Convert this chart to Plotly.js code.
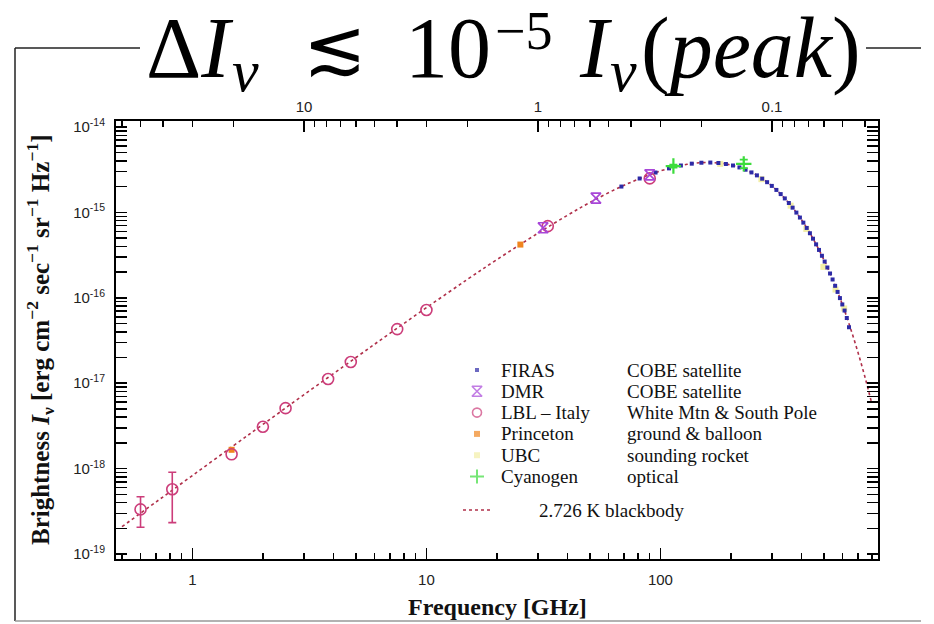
<!DOCTYPE html>
<html>
<head>
<meta charset="utf-8">
<script src="https://cdn.plot.ly/plotly-3.0.1.min.js"></script>
<style>
  html, body { margin: 0; padding: 0; background: #fff; }
  #chart { width: 934px; height: 624px; }
</style>
</head>
<body>
<div id="chart"></div>
<script>
// Cosmic microwave background spectrum: measurements vs. a 2.726 K blackbody.
// Brightness in erg cm^-2 sec^-1 sr^-1 Hz^-1, frequency in GHz.

// 2.726 K blackbody curve
const bbFreq = [0.5, 0.7, 1, 1.5, 2, 3, 5, 7, 10, 15, 20, 30, 40, 50, 70, 100, 130, 160,
  200, 250, 300, 350, 400, 450, 500, 550, 600, 650, 700, 750, 800];
const bbBright = [2.09e-19, 4.08e-19, 8.30e-19, 1.86e-18, 3.29e-18, 7.34e-18, 2.00e-17, 3.86e-17,
  7.66e-17, 1.65e-16, 2.80e-16, 5.72e-16, 9.23e-16, 1.31e-15, 2.08e-15, 3.06e-15, 3.66e-15, 3.84e-15,
  3.59e-15, 2.86e-15, 2.03e-15, 1.33e-15, 8.26e-16, 4.87e-16, 2.77e-16, 1.53e-16, 8.25e-17,
  4.34e-17, 2.25e-17, 1.15e-17, 5.78e-18];

// FIRAS (COBE satellite)
const firasFreq = [68.1, 81.5, 95.3, 108.8, 122.3, 136.1, 149.6, 163.4, 176.9, 190.4, 204.2, 217.6,
  231.1, 244.9, 258.4, 272.2, 285.7, 299.2, 313.0, 326.5, 340.0, 353.8, 367.2, 381.0, 394.5, 408.0,
  421.8, 435.3, 448.8, 462.6, 476.1, 489.9, 503.3, 516.8, 530.6, 544.1, 557.9, 571.4, 584.9, 598.7,
  612.2, 625.7, 639.4];
const firasBright = [2.007e-15, 2.495e-15, 2.930e-15, 3.278e-15, 3.541e-15, 3.721e-15, 3.815e-15,
  3.835e-15, 3.789e-15, 3.688e-15, 3.541e-15, 3.363e-15, 3.161e-15, 2.939e-15, 2.714e-15, 2.482e-15,
  2.259e-15, 2.043e-15, 1.833e-15, 1.638e-15, 1.458e-15, 1.288e-15, 1.136e-15, 9.945e-16, 8.704e-16,
  7.588e-16, 6.577e-16, 5.701e-16, 4.922e-16, 4.227e-16, 3.635e-16, 3.106e-16, 2.658e-16, 2.264e-16,
  1.926e-16, 1.639e-16, 1.381e-16, 1.172e-16, 9.92e-17, 8.36e-17, 7.09e-17, 5.80e-17, 4.52e-17];

// DMR (COBE satellite)
const dmrFreq = [31.5, 53, 90];
const dmrBright = [6.6e-16, 1.47e-15, 2.75e-15];

// LBL - Italy (White Mtn & South Pole)
const lblFreq = [0.6, 0.82, 1.47, 2.0, 2.5, 3.8, 4.75, 7.5, 10.0, 33.0, 90.0];
const lblBright = [3.33e-19, 5.73e-19, 1.47e-18, 3.09e-18, 5.1e-18, 1.12e-17, 1.77e-17, 4.3e-17,
  7.2e-17, 6.9e-16, 2.5e-15];
const lblErrPlus = [1.35e-19, 3.33e-19, NaN, NaN, NaN, NaN, NaN, NaN, NaN, NaN, NaN];
const lblErrMinus = [1.27e-19, 3.40e-19, NaN, NaN, NaN, NaN, NaN, NaN, NaN, NaN, NaN];

// Princeton (ground & balloon)
const prFreq = [1.47, 25.2];
const prBright = [1.66e-18, 4.2e-16];

// UBC (sounding rocket)
const ubcFreq = [180, 270, 360, 420, 497, 560, 610];
const ubcBright = [3.7e-15, 2.45e-15, 1.2e-15, 6.4e-16, 2.3e-16, 1.25e-16, 7.5e-17];

// Cyanogen (optical)
const cnFreq = [113.6, 227];
const cnBright = [3.49e-15, 3.7e-15];
const cnErrPlus = [1.5e-16, 4.5e-16];
const cnErrMinus = [1.5e-16, 4.0e-16];

// Axis ticks
const freqMajor = [1, 10, 100];
const freqMinor = [0.5, 0.6, 0.7, 0.8, 0.9, 2, 3, 4, 5, 6, 7, 8, 9, 20, 30, 40, 50, 60, 70, 80, 90,
  200, 300, 400, 500, 600, 700, 800];
const waveMajor = [10, 1, 0.1];               // wavelength in cm (top axis)
const waveMinor = [60, 50, 40, 30, 20, 9, 8, 7, 6, 5, 4, 3, 2, 0.9, 0.8, 0.7, 0.6, 0.5, 0.4, 0.3,
  0.2, 0.09, 0.08, 0.07, 0.06, 0.05, 0.04];
const brightDecades = [-19, -18, -17, -16, -15, -14];

// Legend rows
const legendNames = ['FIRAS', 'DMR', 'LBL \u2013 Italy', 'Princeton', 'UBC', 'Cyanogen'];
const legendNotes = ['COBE satellite', 'COBE satellite', 'White Mtn & South Pole',
  'ground & balloon', 'sounding rocket', 'optical'];
const legendCurve = '2.726 K blackbody';

// ---- styling ----
const C = {
  firas: '#2d2aa6', dmr: '#a846d8', lbl: '#cc3d7a', pr: '#f0841e',
  ubc: '#f2eea6', cn: '#3cdc3c', bb: '#b0304a'
};
const serif = 'Liberation Serif, Times New Roman, DejaVu Serif, serif';
const sans = 'Liberation Sans, Arial, Helvetica, sans-serif';
const mathSym = 'DejaVu Sans ExtraLight, DejaVu Sans, sans-serif';

// Plot area geometry (pixels)
const W = 934, H = 624, L = 116, R = 878, T = 121, B = 559;
const px = x => (x - L) / (R - L);
const py = y => (B - y) / (B - T);

const C_CM_GHZ = 29.9792458;   // c in cm*GHz
const xRange = [Math.log10(0.5) - 6 / 234, Math.log10(0.5) - 6 / 234 + (R - L) / 234];
const yRange = [-19 - 5 / 85.4, -19 - 5 / 85.4 + (B - T) / 85.4];

const yTickVals = brightDecades.map(d => Math.pow(10, d));
const yTickText = brightDecades.map(d => '10<sup>' + d + '</sup>');
const yMinor = [];
brightDecades.slice(0, -1).forEach(d => { for (let k = 2; k <= 9; k++) yMinor.push(k * Math.pow(10, d)); });

const traces = [
  { x: bbFreq, y: bbBright, mode: 'lines', line: { color: C.bb, width: 1.6, dash: '3px,3px', shape: 'spline' },
    name: legendCurve, hoverinfo: 'skip' },
  { x: ubcFreq, y: ubcBright, mode: 'markers', name: 'UBC',
    marker: { symbol: 'square', size: 6, color: C.ubc } },
  { x: firasFreq, y: firasBright, mode: 'markers', name: 'FIRAS',
    marker: { symbol: 'square', size: 4, color: C.firas } },
  { x: prFreq, y: prBright, mode: 'markers', name: 'Princeton',
    marker: { symbol: 'square', size: 6, color: C.pr } },
  { x: lblFreq, y: lblBright, mode: 'markers', name: 'LBL',
    marker: { symbol: 'circle-open', size: 11, color: C.lbl, line: { width: 1.6, color: C.lbl } },
    error_y: { type: 'data', array: lblErrPlus, arrayminus: lblErrMinus, color: C.lbl, thickness: 1.6, width: 4 } },
  { x: dmrFreq, y: dmrBright, mode: 'markers', name: 'DMR',
    marker: { symbol: 'hourglass-open', size: 10, color: C.dmr, line: { width: 1.6, color: C.dmr } } },
  { x: cnFreq, y: cnBright, mode: 'markers', name: 'Cyanogen',
    marker: { symbol: 'cross-thin-open', size: 11, color: C.cn, line: { width: 2.2, color: C.cn } },
    error_y: { type: 'data', array: cnErrPlus, arrayminus: cnErrMinus, color: C.cn, thickness: 1.6, width: 4 } },
  // top wavelength axis carrier
  { x: [bbFreq[0]], y: [bbBright[0]], xaxis: 'x2', mode: 'markers', marker: { opacity: 0 }, hoverinfo: 'skip' }
];

// Legend keys on a pixel-mapped overlay axis
const rowTop = 370, rowStep = 21.3, keyX = 477, col1X = 499, col2X = 625, curveRowY = 510;
const rowY = legendNames.map((_, i) => rowTop + i * rowStep);
traces.push({
  x: legendNames.map(() => keyX), y: rowY, xaxis: 'x3', yaxis: 'y3', mode: 'markers', hoverinfo: 'skip',
  marker: {
    symbol: ['square', 'hourglass-open', 'circle-open', 'square', 'square', 'cross-thin-open'],
    size: [4, 10, 9, 6, 6, 10],
    color: [C.firas, C.dmr, C.lbl, C.pr, C.ubc, C.cn],
    line: { width: [0, 1.6, 1.6, 0, 0, 2], color: [C.firas, C.dmr, C.lbl, C.pr, C.ubc, C.cn] }
  }
});

const annotations = [];
legendNames.forEach((n, i) => {
  annotations.push({ xref: 'paper', yref: 'paper', x: px(col1X), y: py(rowY[i]), xanchor: 'left', yanchor: 'middle',
    text: n, showarrow: false, font: { family: serif, size: 19, color: '#111' } });
  annotations.push({ xref: 'paper', yref: 'paper', x: px(col2X), y: py(rowY[i]), xanchor: 'left', yanchor: 'middle',
    text: legendNotes[i], showarrow: false, font: { family: serif, size: 19, color: '#111' } });
});
annotations.push({ xref: 'paper', yref: 'paper', x: px(537), y: py(curveRowY), xanchor: 'left', yanchor: 'middle',
  text: legendCurve, showarrow: false, font: { family: serif, size: 19, color: '#111' } });

// Headline formula, typeset piece by piece (left edge, baseline, size in px)
function titlePiece(text, left, baseline, size, family, descent) {
  annotations.push({ xref: 'paper', yref: 'paper', x: px(left), y: py(baseline + descent * size),
    xanchor: 'left', yanchor: 'bottom', borderpad: 0, showarrow: false, text: text,
    font: { family: family, size: size, color: '#000' } });
}
titlePiece('\u0394<i>I</i>', 145, 78, 86, serif, 0.216);
titlePiece('<i>\u03bd</i>', 231, 92, 60, serif, 0.216);
titlePiece('\u2272', 302, 74, 76, mathSym, 0.236);
titlePiece('10', 404, 78, 86, serif, 0.216);
titlePiece('\u22125', 494, 50, 54, serif, 0.216);
titlePiece('<i>I</i>', 578, 78, 86, serif, 0.216);
titlePiece('<i>\u03bd</i>', 609, 92, 60, serif, 0.216);
titlePiece('(<i>peak</i>)', 640, 78, 86, serif, 0.216);

// Axis titles
annotations.push({ xref: 'paper', yref: 'paper', x: 0.5, y: py(607), xanchor: 'center', yanchor: 'middle',
  showarrow: false, text: 'Frequency [GHz]', font: { family: serif, size: 24, color: '#111', weight: 'bold' } });
annotations.push({ xref: 'paper', yref: 'paper', x: px(40), y: py(340), xanchor: 'center', yanchor: 'middle',
  showarrow: false, textangle: -90,
  text: 'Brightness <i>I</i><sub>\u03bd</sub> [erg cm<sup>\u22122</sup> sec<sup>\u22121</sup> sr<sup>\u22121</sup> Hz<sup>\u22121</sup>]',
  font: { family: serif, size: 25, color: '#111', weight: 'bold' } });

const frame = { color: '#222', width: 1.5 };
const shapes = [
  { type: 'line', xref: 'paper', yref: 'paper', x0: px(15), x1: px(140), y0: py(48), y1: py(48), line: frame },
  { type: 'line', xref: 'paper', yref: 'paper', x0: px(866), x1: px(921), y0: py(48), y1: py(48), line: frame },
  { type: 'line', xref: 'paper', yref: 'paper', x0: px(15), x1: px(15), y0: py(48), y1: py(621), line: frame },
  { type: 'line', xref: 'paper', yref: 'paper', x0: px(15), x1: px(921), y0: py(621), y1: py(621), line: { color: '#999', width: 1.5 } },
  // blackbody legend key
  { type: 'line', xref: 'paper', yref: 'paper', x0: px(463), x1: px(490), y0: py(curveRowY), y1: py(curveRowY),
    line: { color: C.bb, width: 1.6, dash: '3px,3px' } }
];

const tickCommon = { ticks: 'inside', tickcolor: '#000', tickwidth: 1.5, showgrid: false, zeroline: false };

const layout = {
  width: W, height: H,
  margin: { l: L, r: W - R, t: T, b: H - B, pad: 0 },
  paper_bgcolor: '#fff', plot_bgcolor: '#fff',
  showlegend: false,
  xaxis: Object.assign({}, tickCommon, {
    type: 'log', range: xRange, tickmode: 'array', tickvals: freqMajor, ticktext: freqMajor.map(String),
    ticklen: 11, showline: true, linecolor: '#000', linewidth: 2, mirror: true,
    tickfont: { family: sans, size: 15, color: '#222' }, ticklabelstandoff: 6,
    minor: { tickmode: 'array', tickvals: freqMinor, ticks: 'inside', ticklen: 6, tickwidth: 1.5, tickcolor: '#000' }
  }),
  xaxis2: Object.assign({}, tickCommon, {
    type: 'log', range: xRange, overlaying: 'x', side: 'top', anchor: 'y', showline: false,
    tickmode: 'array', tickvals: waveMajor.map(w => C_CM_GHZ / w), ticktext: waveMajor.map(String),
    ticklen: 11, tickfont: { family: sans, size: 15, color: '#222' }, ticklabelstandoff: 5,
    minor: { tickmode: 'array', tickvals: waveMinor.map(w => C_CM_GHZ / w), ticks: 'inside', ticklen: 6, tickwidth: 1.5, tickcolor: '#000' }
  }),
  yaxis: Object.assign({}, tickCommon, {
    type: 'log', range: yRange, tickmode: 'array', tickvals: yTickVals, ticktext: yTickText,
    ticklen: 11, showline: true, linecolor: '#000', linewidth: 2, mirror: 'allticks',
    tickfont: { family: sans, size: 15, color: '#222' }, ticklabelstandoff: 6,
    minor: { tickmode: 'array', tickvals: yMinor, ticks: 'inside', ticklen: 6, tickwidth: 1.5, tickcolor: '#000' }
  }),
  xaxis3: { overlaying: 'x', range: [L, R], visible: false, fixedrange: true },
  yaxis3: { overlaying: 'y', anchor: 'x3', range: [B, T], visible: false, fixedrange: true },
  annotations: annotations,
  shapes: shapes
};

Plotly.newPlot('chart', traces, layout, { displayModeBar: false, staticPlot: true });
</script>
</body>
</html>
